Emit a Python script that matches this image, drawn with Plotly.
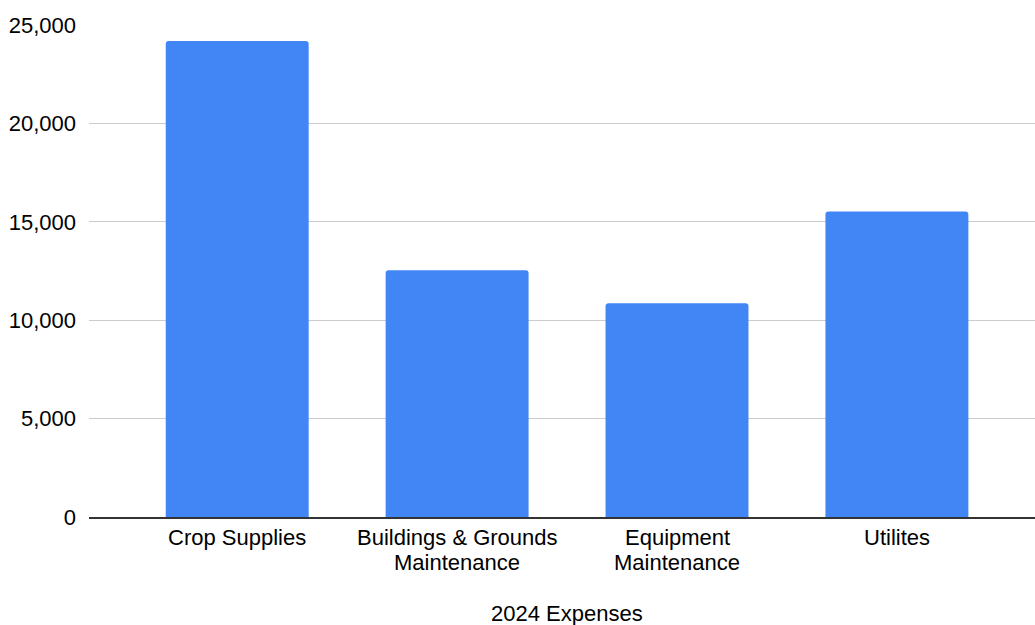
import plotly.graph_objects as go

categories = ["Crop Supplies", "Buildings & Grounds<br>Maintenance", "Equipment<br>Maintenance", "Utilites"]
expenses = [24190, 12540, 10860, 15520]
y_ticks = [0, 5000, 10000, 15000, 20000, 25000]
y_tick_labels = ["0", "5,000", "10,000", "15,000", "20,000", "25,000"]
x_title = "2024 Expenses"

FONT = "Liberation Sans, Arial, sans-serif"
FS = 22

fig = go.Figure(go.Bar(
    x=list(range(len(categories))),
    y=expenses,
    marker=dict(color="#4285F4", cornerradius=3, line=dict(width=0)),
    hoverinfo="y",
))

# category labels (tight line spacing like the reference)
annotations = []
for i, label in enumerate(categories):
    for j, line in enumerate(label.split("<br>")):
        annotations.append(dict(
            x=i, xref="x", y=0, yref="paper",
            text=line, showarrow=False,
            xanchor="center", yanchor="middle",
            yshift=-20 - 25 * j, borderpad=0,
            font=dict(family=FONT, size=FS, color="#000"),
        ))
annotations.append(dict(
    x=(len(categories) - 1) / 2, xref="x", y=0, yref="paper",
    text=x_title, showarrow=False, xanchor="center", yanchor="middle",
    yshift=-96, borderpad=0, font=dict(family=FONT, size=FS, color="#000"),
))

fig.update_layout(
    width=1035, height=625,
    margin=dict(l=89, r=0, t=25, b=108),
    paper_bgcolor="white", plot_bgcolor="white",
    font=dict(family=FONT, size=FS, color="#000"),
    bargap=0.35,
    showlegend=False,
    annotations=annotations,
    xaxis=dict(
        tickmode="array", tickvals=list(range(len(categories))),
        showticklabels=False,
        range=[-0.674, 3.628],
        showgrid=False, zeroline=False,
        showline=True, linecolor="#333", linewidth=1.5,
        ticks="",
        fixedrange=True,
    ),
    yaxis=dict(
        range=[0, 25000],
        tickmode="array", tickvals=y_ticks, ticktext=y_tick_labels,
        showgrid=True, gridcolor="#cccccc", gridwidth=1,
        zeroline=False, showline=False,
        ticks="", ticklabelstandoff=12,
        tickfont=dict(family=FONT, size=FS, color="#000"),
        fixedrange=True,
    ),
)

fig.write_html("out.html")
